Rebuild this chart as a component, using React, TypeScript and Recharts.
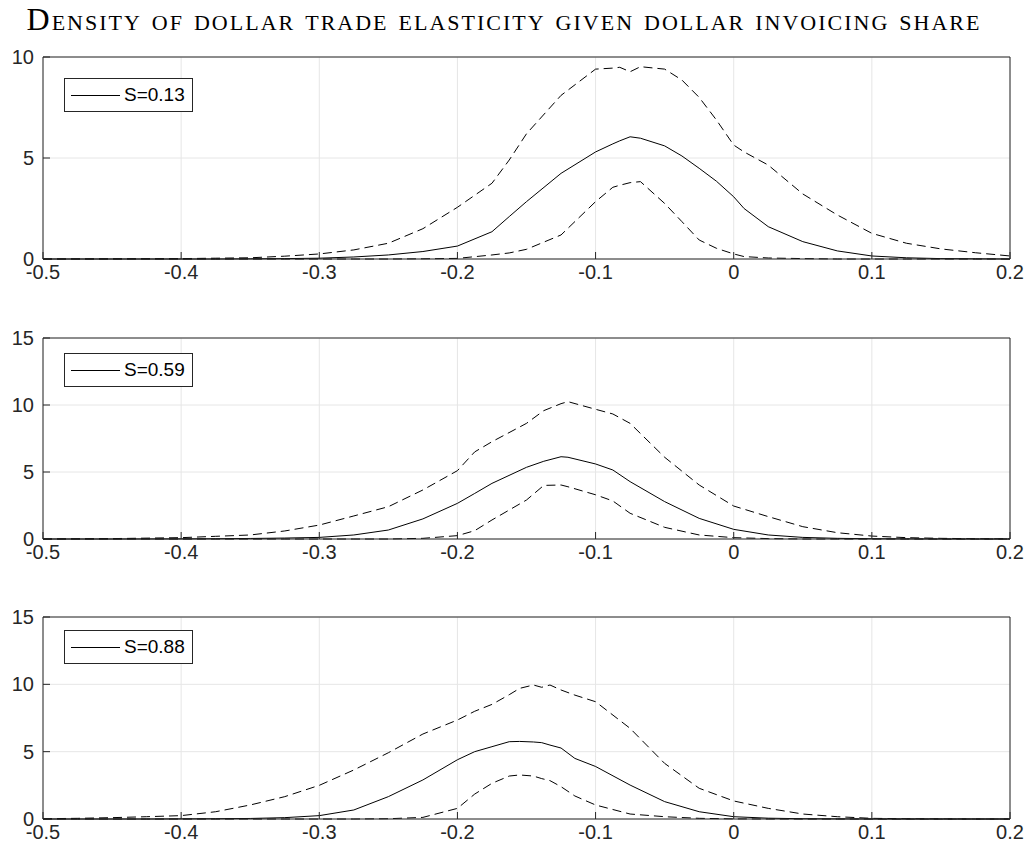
import React from 'react';
import { LineChart, Line, XAxis, YAxis, CartesianGrid } from 'recharts';

// tick labels
const xTicks = [-0.5, -0.4, -0.3, -0.2, -0.1, 0, 0.1, 0.2];
const yTicksSmall = [0, 5, 10];
const yTicksBig = [0, 5, 10, 15];

// S=0.13
const x13 = [-0.5, -0.45, -0.4, -0.375, -0.35, -0.325, -0.3, -0.275, -0.25, -0.225, -0.2, -0.175, -0.1625, -0.15, -0.125, -0.1, -0.0875, -0.0825, -0.075, -0.0675, -0.05, -0.0375, -0.025, -0.0125, 0, 0.0075, 0.025, 0.05, 0.075, 0.1, 0.125, 0.15, 0.175, 0.2];
const hi13 = [0, 0.01, 0.02, 0.04, 0.06, 0.14, 0.25, 0.45, 0.78, 1.5, 2.56, 3.75, 4.9, 6.2, 8.1, 9.4, 9.45, 9.49, 9.27, 9.52, 9.4, 8.86, 8.0, 6.88, 5.64, 5.3, 4.65, 3.22, 2.18, 1.27, 0.78, 0.5, 0.31, 0.15];
const mid13 = [0, 0, 0, 0, 0.01, 0.02, 0.04, 0.1, 0.2, 0.37, 0.64, 1.35, 2.1, 2.84, 4.24, 5.3, 5.7, 5.85, 6.05, 5.98, 5.6, 5.1, 4.49, 3.85, 3.08, 2.5, 1.6, 0.86, 0.4, 0.15, 0.06, 0.02, 0.01, 0];
const lo13 = [0, 0, 0, 0, 0, 0, 0, 0, 0, 0.01, 0.03, 0.2, 0.3, 0.48, 1.19, 2.84, 3.55, 3.65, 3.78, 3.83, 2.75, 1.85, 0.94, 0.53, 0.25, 0.12, 0.05, 0.02, 0, 0, 0, 0, 0, 0];

// S=0.59
const x59 = [-0.5, -0.45, -0.4, -0.375, -0.35, -0.325, -0.3, -0.275, -0.25, -0.225, -0.2, -0.1875, -0.175, -0.15, -0.1375, -0.125, -0.12, -0.1, -0.0875, -0.075, -0.05, -0.025, 0, 0.025, 0.05, 0.075, 0.1, 0.125, 0.15, 0.175, 0.2];
const hi59 = [0, 0.03, 0.1, 0.2, 0.3, 0.6, 1.04, 1.72, 2.41, 3.66, 5.1, 6.5, 7.26, 8.63, 9.58, 10.1, 10.25, 9.68, 9.33, 8.63, 6.1, 4.03, 2.46, 1.67, 0.92, 0.47, 0.22, 0.1, 0.05, 0.02, 0.01];
const mid59 = [0, 0, 0.01, 0.02, 0.04, 0.07, 0.12, 0.3, 0.67, 1.5, 2.66, 3.4, 4.15, 5.35, 5.8, 6.14, 6.1, 5.6, 5.15, 4.28, 2.79, 1.54, 0.72, 0.3, 0.12, 0.05, 0.02, 0.01, 0, 0, 0];
const lo59 = [0, 0, 0, 0, 0, 0, 0, 0, 0, 0.05, 0.25, 0.62, 1.42, 2.91, 4.0, 4.03, 3.9, 3.3, 2.84, 1.92, 0.87, 0.3, 0.1, 0.03, 0, 0, 0, 0, 0, 0, 0];

// S=0.88
const x88 = [-0.5, -0.475, -0.45, -0.425, -0.4, -0.375, -0.35, -0.325, -0.3, -0.275, -0.25, -0.225, -0.2, -0.1875, -0.175, -0.1625, -0.155, -0.145, -0.139, -0.133, -0.125, -0.115, -0.1, -0.075, -0.05, -0.025, 0, 0.025, 0.05, 0.075, 0.1, 0.125, 0.15, 0.175, 0.2];
const hi88 = [0.02, 0.05, 0.1, 0.17, 0.25, 0.54, 1.04, 1.66, 2.5, 3.64, 4.92, 6.31, 7.35, 8.0, 8.51, 9.23, 9.7, 9.95, 9.78, 9.95, 9.58, 9.2, 8.71, 6.73, 4.13, 2.28, 1.34, 0.79, 0.37, 0.17, 0.05, 0.02, 0.01, 0, 0];
const mid88 = [0, 0, 0, 0, 0.01, 0.02, 0.04, 0.1, 0.25, 0.67, 1.66, 2.9, 4.4, 5.0, 5.37, 5.74, 5.76, 5.72, 5.67, 5.49, 5.27, 4.5, 3.9, 2.52, 1.29, 0.54, 0.17, 0.06, 0.02, 0.01, 0, 0, 0, 0, 0];
const lo88 = [0, 0, 0, 0, 0, 0, 0, 0, 0, 0, 0.02, 0.12, 0.79, 1.85, 2.65, 3.19, 3.27, 3.19, 3.0, 2.85, 2.4, 1.71, 1.04, 0.37, 0.17, 0.05, 0.01, 0, 0, 0, 0, 0, 0, 0, 0];

const rows = (xs: number[], hi: number[], mid: number[], lo: number[]) =>
  xs.map((x, i) => ({ x, hi: hi[i], mid: mid[i], lo: lo[i] }));

const AXIS = '#262626';
const FONT = "'Liberation Sans', Arial, sans-serif";
const tickStyle = { fontSize: 20, fill: AXIS, fontFamily: FONT };

type PanelProps = {
  data: { x: number; hi: number; mid: number; lo: number }[];
  yMax: number;
  yTicks: number[];
  label: string;
  plotTop: number;
  plotH: number;
  legendTop: number;
};

function Panel({ data, yMax, yTicks, label, plotTop, plotH, legendTop }: PanelProps) {
  return (
    <>
      <div style={{ position: 'absolute', left: 0, top: plotTop - 10 }}>
        <LineChart width={1029} height={plotH + 40} data={data} margin={{ top: 0, right: 0, bottom: 0, left: 0 }}>
          <CartesianGrid stroke="#e6e6e6" xAxisId="b" yAxisId="l" />
          <XAxis
            xAxisId="b"
            dataKey="x"
            type="number"
            domain={[-0.5, 0.2]}
            ticks={xTicks}
            interval={0}
            allowDataOverflow
            height={30}
            stroke={AXIS}
            tickSize={-7}
            tickMargin={13}
            tick={tickStyle}
          />
          <XAxis
            xAxisId="t"
            orientation="top"
            dataKey="x"
            type="number"
            domain={[-0.5, 0.2]}
            ticks={xTicks}
            interval={0}
            height={10}
            stroke={AXIS}
            tickSize={-7}
            tick={false}
          />
          <YAxis
            yAxisId="l"
            type="number"
            domain={[0, yMax]}
            ticks={yTicks}
            interval={0}
            width={43}
            stroke={AXIS}
            tickSize={-7}
            tickMargin={16}
            tick={tickStyle}
          />
          <YAxis
            yAxisId="r"
            orientation="right"
            type="number"
            domain={[0, yMax]}
            ticks={yTicks}
            interval={0}
            width={19}
            stroke={AXIS}
            tickSize={-7}
            tick={false}
          />
          <Line xAxisId="b" yAxisId="l" dataKey="hi" type="linear" stroke="#000" strokeWidth={1} strokeDasharray="9 5" dot={false} isAnimationActive={false} />
          <Line xAxisId="b" yAxisId="l" dataKey="lo" type="linear" stroke="#000" strokeWidth={1} strokeDasharray="9 5" dot={false} isAnimationActive={false} />
          <Line xAxisId="b" yAxisId="l" dataKey="mid" type="linear" stroke="#000" strokeWidth={1} dot={false} isAnimationActive={false} />
        </LineChart>
      </div>
      <div
        style={{
          position: 'absolute',
          left: 64,
          top: legendTop,
          width: 129,
          height: 34,
          boxSizing: 'border-box',
          border: `1px solid ${AXIS}`,
          background: '#fff',
        }}
      >
        <div style={{ position: 'absolute', left: 6, top: 16, width: 49, height: 1, background: '#000' }} />
        <span
          style={{
            position: 'absolute',
            left: 59,
            top: 0,
            lineHeight: '32px',
            fontSize: 19,
            fontFamily: FONT,
            color: '#000',
          }}
        >
          {label}
        </span>
      </div>
    </>
  );
}

export default function App() {
  return (
    <div style={{ position: 'absolute', left: 0, top: 0, width: 1029, height: 859, background: '#fff' }}>
      <div
        style={{
          position: 'absolute',
          left: 0,
          top: 3,
          width: 1008,
          textAlign: 'center',
          fontFamily: "'Liberation Serif', serif",
          fontVariant: 'small-caps',
          fontSize: 32,
          letterSpacing: 2,
          lineHeight: '32px',
          color: '#000',
        }}
      >
        Density of dollar trade elasticity given dollar invoicing share
      </div>
      <Panel data={rows(x13, hi13, mid13, lo13)} yMax={10} yTicks={yTicksSmall} label="S=0.13" plotTop={57} plotH={202} legendTop={78} />
      <Panel data={rows(x59, hi59, mid59, lo59)} yMax={15} yTicks={yTicksBig} label="S=0.59" plotTop={338} plotH={201} legendTop={353} />
      <Panel data={rows(x88, hi88, mid88, lo88)} yMax={15} yTicks={yTicksBig} label="S=0.88" plotTop={617} plotH={202} legendTop={630} />
    </div>
  );
}
